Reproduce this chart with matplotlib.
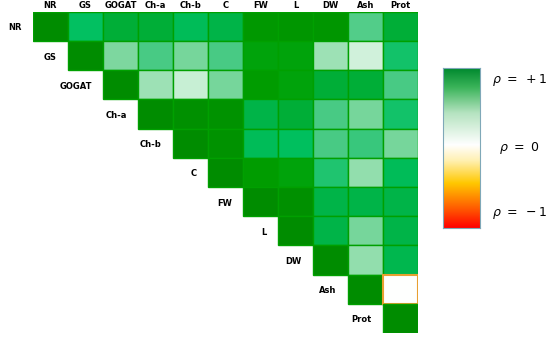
import matplotlib
matplotlib.use("Agg")
import matplotlib.pyplot as plt
import numpy as np
from matplotlib.colors import LinearSegmentedColormap, Normalize

# Nombres de las variables
etiquetas = ['NR', 'GS', 'GOGAT', 'Ch-a', 'Ch-b', 'C', 'FW', 'L', 'DW', 'Ash', 'Prot']

# Coeficientes de correlacion (triangulo superior)
fila_NR    = [1.00, 0.75, 0.85, 0.85, 0.78, 0.82, 0.95, 0.96, 0.96, 0.60, 0.85]
fila_GS    = [1.00, 0.50, 0.62, 0.52, 0.62, 0.90, 0.90, 0.42, 0.25, 0.72]
fila_GOGAT = [1.00, 0.42, 0.30, 0.52, 0.93, 0.90, 0.85, 0.85, 0.62]
fila_Cha   = [1.00, 0.98, 0.97, 0.82, 0.85, 0.62, 0.52, 0.72]
fila_Chb   = [1.00, 0.97, 0.78, 0.76, 0.62, 0.65, 0.52]
fila_C     = [1.00, 0.93, 0.90, 0.70, 0.45, 0.78]
fila_FW    = [1.00, 0.98, 0.82, 0.82, 0.82]
fila_L     = [1.00, 0.82, 0.52, 0.82]
fila_DW    = [1.00, 0.45, 0.80]
fila_Ash   = [1.00, 0.00]
fila_Prot  = [1.00]

filas = [fila_NR, fila_GS, fila_GOGAT, fila_Cha, fila_Chb, fila_C,
         fila_FW, fila_L, fila_DW, fila_Ash, fila_Prot]

n = len(etiquetas)

# Escala de colores de las celdas
cmap = LinearSegmentedColormap.from_list('rho', [
    (0.00, '#FF0000'), (0.20, '#FF8C00'), (0.30, '#FFC800'), (0.45, '#FFF5D0'),
    (0.50, '#FFFFFF'), (0.65, '#C8EFD5'), (0.75, '#80D8A0'), (0.82, '#40C880'),
    (0.88, '#00C060'), (0.92, '#00B040'), (0.96, '#00A000'), (1.00, '#008C00')])
norm = Normalize(vmin=-1, vmax=1)

# Escala de la barra (degradado mas suave)
cmap_barra = LinearSegmentedColormap.from_list('barra', [
    (0.00, '#FF0000'), (0.12, '#FF5A00'), (0.28, '#FFC800'), (0.42, '#FFF0B0'),
    (0.52, '#FFFFFF'), (0.72, '#B5E3C0'), (0.88, '#3BB45A'), (1.00, '#00892E')])

fig = plt.figure(figsize=(5.5, 3.38), dpi=100)
ax = fig.add_axes([0.06, 0.015, 0.70, 0.95])

# Solo se dibuja el triangulo superior
for i, fila in enumerate(filas):
    for k, v in enumerate(fila):
        j = i + k
        borde = '#00A000'
        lw = 1.0
        if etiquetas[i] == 'Ash' and etiquetas[j] == 'Prot':
            borde = '#E8A030'
            lw = 1.5
        ax.add_patch(plt.Rectangle((j, i), 1, 1, facecolor=cmap(norm(v)),
                                   edgecolor=borde, linewidth=lw))

ax.set_xlim(0, n)
ax.set_ylim(n, 0)
ax.axis('off')

for k, nombre in enumerate(etiquetas):
    ax.text(k + 0.5, -0.06, nombre, ha='center', va='bottom', fontsize=6, fontweight='bold')
    ax.text(k - 0.32, k + 0.55, nombre, ha='right', va='center', fontsize=6, fontweight='bold')

# Barra de colores
cax = fig.add_axes([0.806, 0.325, 0.066, 0.473])
grad = np.linspace(1, -1, 256).reshape(-1, 1)
cax.imshow(grad, aspect='auto', cmap=cmap_barra, vmin=-1, vmax=1, extent=[0, 1, -1, 1])
cax.set_xticks([])
cax.set_yticks([])
for s in cax.spines.values():
    s.set_color('#7FA8B8')
    s.set_linewidth(0.8)

fig.text(0.945, 0.763, r'$\rho\ =\ +1$', ha='center', va='center', fontsize=9)
fig.text(0.945, 0.562, r'$\rho\ =\ 0$', ha='center', va='center', fontsize=9)
fig.text(0.945, 0.370, r'$\rho\ =\ -1$', ha='center', va='center', fontsize=9)

fig.savefig('out.png', dpi=100)
